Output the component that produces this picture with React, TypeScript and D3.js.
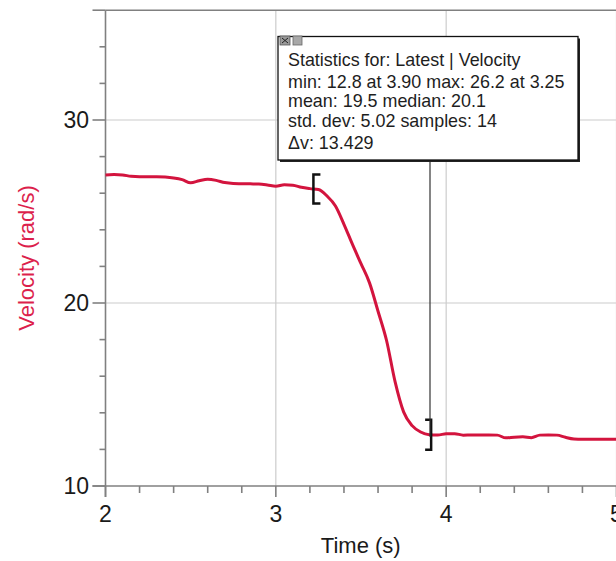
import React, { useEffect, useRef } from "react";
import * as d3 from "d3";

// sampled every 0.05 s
const times = [
  2.0, 2.05, 2.1, 2.15, 2.2, 2.25, 2.3, 2.35, 2.4, 2.45, 2.5, 2.55, 2.6, 2.65,
  2.7, 2.75, 2.8, 2.85, 2.9, 2.95, 3.0, 3.05, 3.1, 3.15, 3.2, 3.25, 3.3, 3.35,
  3.4, 3.45, 3.5, 3.55, 3.6, 3.65, 3.7, 3.75, 3.8, 3.85, 3.9, 3.95, 4.0, 4.05,
  4.1, 4.15, 4.2, 4.25, 4.3, 4.35, 4.4, 4.45, 4.5, 4.55, 4.6, 4.65, 4.7, 4.75,
  4.8, 4.85, 4.9, 4.95, 5.0,
];
const velocity = [
  27.0, 27.02, 27.0, 26.92, 26.9, 26.9, 26.9, 26.88, 26.83, 26.74, 26.57, 26.68,
  26.76, 26.7, 26.58, 26.53, 26.52, 26.51, 26.5, 26.45, 26.38, 26.46, 26.44,
  26.32, 26.25, 26.2, 25.85, 25.3, 24.3, 23.2, 22.15, 21.1, 19.55, 17.95, 15.7,
  14.05, 13.3, 12.95, 12.8, 12.79, 12.85, 12.86, 12.78, 12.79, 12.79, 12.79,
  12.78, 12.63, 12.67, 12.69, 12.64, 12.78, 12.79, 12.78, 12.66, 12.57, 12.55,
  12.55, 12.55, 12.55, 12.55,
];
const xMajorTicks = [2, 3, 4, 5];
const xMinorTicks = [2.2, 2.4, 2.6, 2.8, 3.2, 3.4, 3.6, 3.8, 4.2, 4.4, 4.6, 4.8];
const yMajorTicks = [10, 20, 30];
const yMinorTicks = [12, 14, 16, 18, 22, 24, 26, 28, 32, 34];
const selection = [3.25, 3.9]; // start / end of the statistics region
const statLines = [
  "Statistics for: Latest | Velocity",
  "min: 12.8 at 3.90 max: 26.2 at 3.25",
  "mean: 19.5 median: 20.1",
  "std. dev: 5.02 samples: 14",
  "\u0394v: 13.429",
];

const W = 616;
const H = 561;
const RED = "#d3143e";
const AXIS = "#808080";
const GRID = "#cccccc";
const FONT = "'Liberation Sans', Arial, sans-serif";

export default function App() {
  const svgRef = useRef<SVGSVGElement | null>(null);

  useEffect(() => {
    if (!svgRef.current) return;
    const svg = d3.select(svgRef.current);
    svg.selectAll("*").remove();

    const x = d3.scaleLinear().domain([2, 5]).range([105.5, 616.5]);
    const y = d3.scaleLinear().domain([10, 30]).range([486, 120]);
    const yTop = y(36);

    svg.append("rect").attr("width", W).attr("height", H).attr("fill", "#fff");

    // grid
    const grid = svg.append("g");
    xMajorTicks.slice(1).forEach((t) => {
      grid.append("line")
        .attr("x1", x(t)).attr("x2", x(t))
        .attr("y1", yTop).attr("y2", y(10))
        .attr("stroke", GRID).attr("stroke-width", 1.2);
    });
    yMajorTicks.slice(1).forEach((v) => {
      grid.append("line")
        .attr("x1", x(2)).attr("x2", W)
        .attr("y1", y(v)).attr("y2", y(v))
        .attr("stroke", GRID).attr("stroke-width", 1.2);
    });

    // frame: top line, left axis, bottom axis
    const ax = svg.append("g").attr("stroke", AXIS).attr("stroke-width", 1.6);
    ax.append("line").attr("x1", x(2)).attr("x2", W).attr("y1", yTop).attr("y2", yTop);
    ax.append("line").attr("x1", x(2)).attr("x2", x(2)).attr("y1", yTop).attr("y2", y(10) + 11);
    ax.append("line").attr("x1", x(2) - 13).attr("x2", W).attr("y1", y(10)).attr("y2", y(10));

    // x ticks
    xMajorTicks.forEach((t) => {
      ax.append("line").attr("x1", x(t)).attr("x2", x(t)).attr("y1", y(10)).attr("y2", y(10) + 11);
    });
    xMinorTicks.forEach((t) => {
      ax.append("line").attr("x1", x(t)).attr("x2", x(t)).attr("y1", y(10)).attr("y2", y(10) + 7);
    });
    // y ticks
    yMajorTicks.concat([36]).forEach((v) => {
      ax.append("line").attr("x1", x(2) - 13).attr("x2", x(2)).attr("y1", y(v)).attr("y2", y(v));
    });
    yMinorTicks.forEach((v) => {
      ax.append("line").attr("x1", x(2) - 6).attr("x2", x(2)).attr("y1", y(v)).attr("y2", y(v));
    });

    // tick labels
    const labels = svg.append("g")
      .attr("font-family", FONT).attr("font-size", 23).attr("fill", "#1a1a1a");
    xMajorTicks.forEach((t) => {
      labels.append("text").attr("x", x(t)).attr("y", 522)
        .attr("text-anchor", "middle").text(t);
    });
    yMajorTicks.forEach((v) => {
      labels.append("text").attr("x", 89).attr("y", y(v)).attr("dy", "0.36em")
        .attr("text-anchor", "end").text(v);
    });

    // axis titles
    svg.append("text")
      .attr("x", (x(2) + W) / 2).attr("y", 553)
      .attr("text-anchor", "middle")
      .attr("font-family", FONT).attr("font-size", 22).attr("fill", "#1a1a1a")
      .text("Time (s)");
    svg.append("text")
      .attr("transform", `translate(34, 258) rotate(-90)`)
      .attr("text-anchor", "middle")
      .attr("font-family", FONT).attr("font-size", 22).attr("fill", "#dc1f4c")
      .text("Velocity (rad/s)");

    // data line
    const data = times.map((t, i) => [t, velocity[i]] as [number, number]);
    const line = d3.line<[number, number]>()
      .x((d) => x(d[0]))
      .y((d) => y(d[1]))
      .curve(d3.curveMonotoneX);
    svg.append("path")
      .datum(data)
      .attr("d", line)
      .attr("fill", "none")
      .attr("stroke", RED)
      .attr("stroke-width", 3)
      .attr("stroke-linejoin", "round");

    // selection brackets
    const vAt = (t: number) => velocity[times.indexOf(t)];
    const bx0 = x(selection[0]) - 5;
    const by0 = y(vAt(selection[0]));
    svg.append("path")
      .attr("d", `M${bx0 + 7},${by0 - 15} H${bx0} V${by0 + 14} H${bx0 + 7}`)
      .attr("fill", "none").attr("stroke", "#111").attr("stroke-width", 2.5);
    const bx1 = x(selection[1]) + 2;
    const by1 = y(vAt(selection[1]));
    svg.append("path")
      .attr("d", `M${bx1 - 6},${by1 - 15} H${bx1} V${by1 + 15} H${bx1 - 6}`)
      .attr("fill", "none").attr("stroke", "#111").attr("stroke-width", 2.5);

    // statistics box
    const bx = 278, by = 36.5, bw = 300, bh = 123.5;
    svg.append("line")
      .attr("x1", 430).attr("x2", 430).attr("y1", by + bh).attr("y2", by1 + 2)
      .attr("stroke", "#333").attr("stroke-width", 1.2);
    svg.append("rect")
      .attr("x", bx + 2).attr("y", by + 2).attr("width", bw).attr("height", bh)
      .attr("fill", "#222");
    svg.append("rect")
      .attr("x", bx).attr("y", by).attr("width", bw).attr("height", bh)
      .attr("fill", "#fff").attr("stroke", "#111").attr("stroke-width", 1.3);
    // window buttons
    svg.append("rect").attr("x", 280).attr("y", 36).attr("width", 10).attr("height", 9)
      .attr("fill", "#9a9a9a").attr("stroke", "#555").attr("stroke-width", 0.8);
    svg.append("path").attr("d", "M282,38 L288,43 M288,38 L282,43")
      .attr("stroke", "#222").attr("stroke-width", 1);
    svg.append("rect").attr("x", 293).attr("y", 36).attr("width", 9).attr("height", 9)
      .attr("fill", "#a8a8a8").attr("stroke", "#666").attr("stroke-width", 0.8);

    const baselines = [65.5, 87.5, 107, 126.5, 149];
    const st = svg.append("g")
      .attr("font-family", FONT).attr("font-size", 17.9).attr("fill", "#1e1e1e");
    statLines.forEach((s, i) => {
      st.append("text").attr("x", 288).attr("y", baselines[i]).text(s);
    });
  }, []);

  return (
    <svg
      ref={svgRef}
      width={W}
      height={H}
      style={{ position: "absolute", left: 0, top: 0, display: "block" }}
    />
  );
}
